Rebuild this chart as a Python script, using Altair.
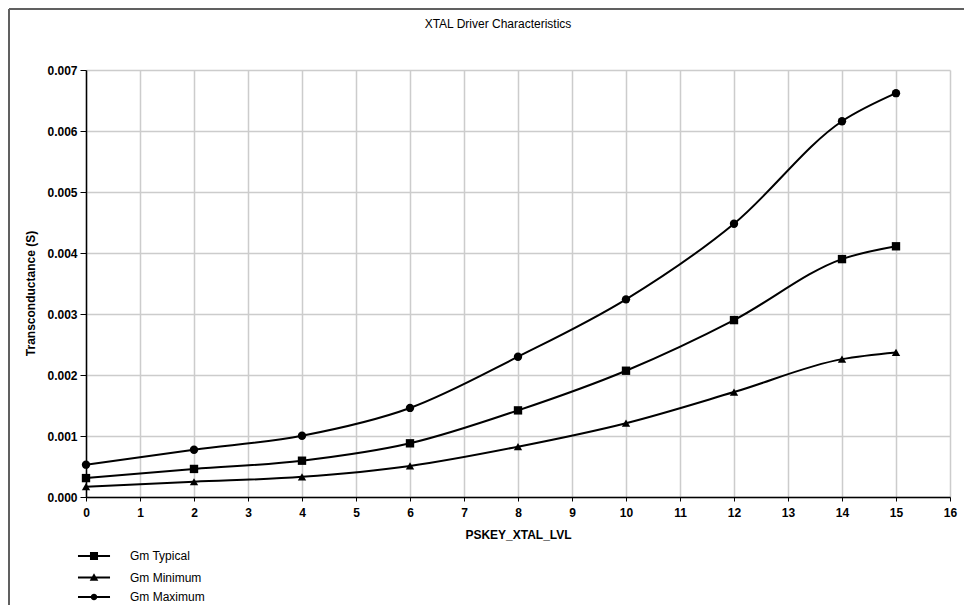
import altair as alt
import pandas as pd

# ---- data ----
x_values = [0, 2, 4, 6, 8, 10, 12, 14, 15]
gm_typical = [0.00031, 0.00046, 0.000595, 0.00088, 0.00142, 0.00207, 0.00290, 0.00390, 0.00411]
gm_minimum = [0.00017, 0.00025, 0.00033, 0.00051, 0.000825, 0.00121, 0.00172, 0.00226, 0.00237]
gm_maximum = [0.00053, 0.000775, 0.001005, 0.00146, 0.00230, 0.00324, 0.00448, 0.00616, 0.00662]
series_names = ["Gm Typical", "Gm Minimum", "Gm Maximum"]
chart_title = ["XTAL Driver Characteristics"]

rows = []
for name, vals in zip(series_names, [gm_typical, gm_minimum, gm_maximum]):
    for xv, yv in zip(x_values, vals):
        rows.append({"x": xv, "y": yv, "series": name})
df = pd.DataFrame(rows)

FONT = "Liberation Sans"
x_ticks = [i * 0.5 for i in range(33)]
y_ticks = [round(i * 0.0005, 4) for i in range(15)]

x_enc = alt.X(
    "x:Q",
    scale=alt.Scale(domain=[0, 16], nice=False, zero=False),
    axis=alt.Axis(
        title="PSKEY_XTAL_LVL",
        values=x_ticks,
        labelExpr="datum.value % 1 == 0 ? format(datum.value, 'd') : ''",
        grid=True, gridColor="#cccccc", gridWidth=1.5,
        domainColor="black", domainWidth=1.5,
        tickColor="black", tickSize=4, tickWidth=1,
        labelFont=FONT, labelFontSize=12, labelFontWeight="bold", labelColor="black",
        labelPadding=6, labelFlush=False, labelOverlap=False,
        titleFont=FONT, titleFontSize=12, titleFontWeight="bold", titleColor="black",
        titleBaseline="top", titleY=32,
    ),
)
y_enc = alt.Y(
    "y:Q",
    scale=alt.Scale(domain=[0, 0.007], nice=False),
    axis=alt.Axis(
        title="Transconductance (S)",
        values=y_ticks,
        labelExpr="round(datum.value * 2000) % 2 == 0 ? format(datum.value, '.3f') : ''",
        grid=True, gridColor="#cccccc", gridWidth=1.5,
        domainColor="black", domainWidth=1.5,
        tickColor="black", tickSize=6, tickWidth=1,
        labelFont=FONT, labelFontSize=12, labelFontWeight="bold", labelColor="black",
        labelPadding=3, labelFlush=False, labelOverlap=False,
        titleFont=FONT, titleFontSize=12, titleFontWeight="bold", titleColor="black",
        titleBaseline="middle", titleAlign="center", titleAngle=-90,
        titleX=-56, titleY=223,
    ),
)

base = alt.Chart(df)

lines = base.mark_line(interpolate="monotone", color="black", strokeWidth=2).encode(
    x=x_enc, y=y_enc, detail="series:N"
)

points = base.mark_point(filled=True, color="black", opacity=1).encode(
    x="x:Q",
    y="y:Q",
    shape=alt.Shape(
        "series:N",
        scale=alt.Scale(domain=series_names, range=["square", "triangle-up", "circle"]),
        legend=None,
    ),
    size=alt.Size(
        "series:N",
        scale=alt.Scale(domain=series_names, range=[70, 70, 40]),
        legend=None,
    ),
)

# legend-only layer (no marks drawn): symbol = thin filled bar + marker
line_seg = "M-2.67,-0.17H2.67V0.17H-2.67Z"
legend_paths = [
    line_seg + "M-0.67,-0.67H0.67V0.67H-0.67Z",
    line_seg + "M0,-0.7L0.72,0.55H-0.72Z",
    line_seg + "M0.55,0A0.55,0.55 0 1 1 -0.55,0A0.55,0.55 0 1 1 0.55,0Z",
]
legend_layer = base.transform_filter("false").mark_point(
    filled=True, color="black", opacity=1
).encode(
    x="x:Q",
    y="y:Q",
    shape=alt.Shape(
        "series:N",
        scale=alt.Scale(domain=series_names, range=legend_paths),
        legend=alt.Legend(
            title=None,
            orient="none",
            legendX=1,
            legendY=479,
            direction="vertical",
            padding=0,
            symbolSize=144,
            symbolFillColor="black",
            symbolOpacity=1,
            labelFont=FONT,
            labelFontSize=12,
            labelColor="black",
            labelOffset=29,
            rowPadding=5.5,
        ),
    ),
)

title_layer = alt.Chart(pd.DataFrame({"t": chart_title})).mark_text(
    font=FONT, fontSize=12, color="black", align="center", baseline="middle"
).encode(text="t:N", x=alt.value(412), y=alt.value(-46))

border_df = pd.DataFrame({"k": [0]})
left_border = alt.Chart(border_df).mark_rule(color="#606060", strokeWidth=2).encode(
    x=alt.value(-77), y=alt.value(-61), y2=alt.value(560)
)
top_border = alt.Chart(border_df).mark_rule(color="#606060", strokeWidth=2).encode(
    x=alt.value(-77), x2=alt.value(900), y=alt.value(-61)
)

chart = (
    alt.layer(lines, points, legend_layer, title_layer, left_border, top_border)
    .resolve_scale(shape="independent", size="independent")
    .properties(
        width=864,
        height=427,
        autosize=alt.AutoSizeParams(type="none"),
        padding={"left": 78, "top": 62, "right": 14, "bottom": 108},
        background="white",
    )
    .configure_view(stroke=None)
)

chart.save("out.html", embed_options={"renderer": "svg", "actions": False})
